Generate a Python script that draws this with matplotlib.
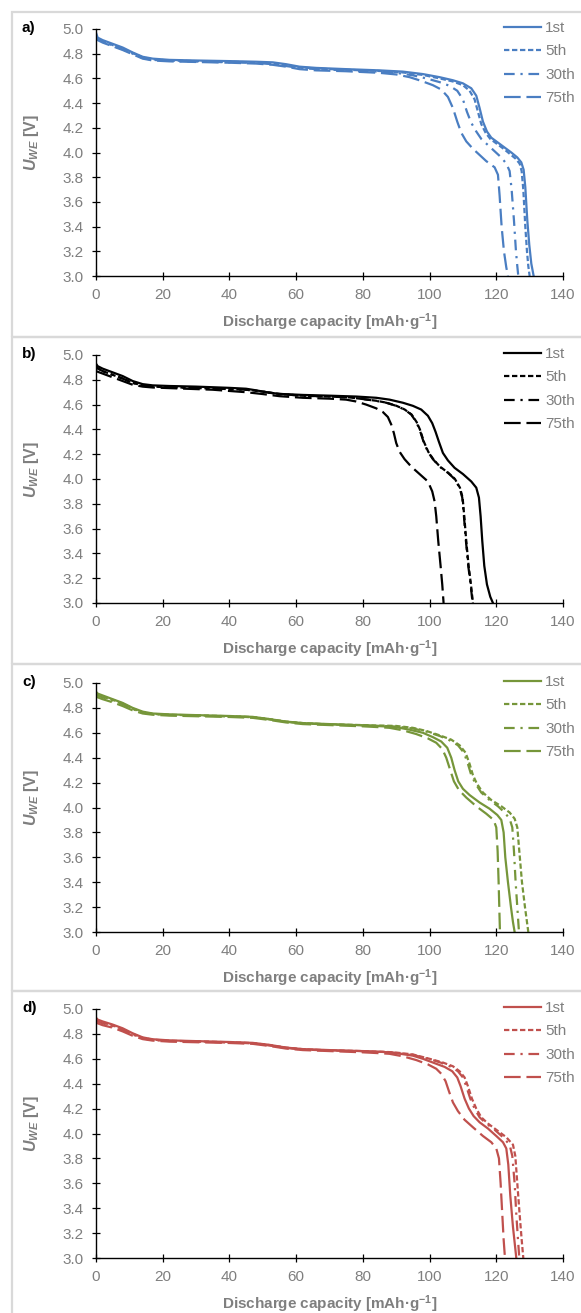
import numpy as np
import matplotlib
matplotlib.use("Agg")
import matplotlib.pyplot as plt
from matplotlib.patches import Rectangle

plt.rcParams["font.family"] = ["Liberation Sans", "DejaVu Sans"]
plt.rcParams["mathtext.fontset"] = "custom"
plt.rcParams["mathtext.it"] = "Liberation Sans:italic:bold"
plt.rcParams["mathtext.rm"] = "Liberation Sans:bold"
plt.rcParams["mathtext.bf"] = "Liberation Sans:bold"

# ---- data: discharge curves (capacity mAh/g, U_WE V) ----
CYCLES = ["1st", "5th", "30th", "75th"]
PANELS = ["a)", "b)", "c)", "d)"]
COLOURS = ["#4a7ec2", "#000000", "#76963a", "#c0504d"]

A_1ST = [(0, 4.97), (0.5, 4.93), (2, 4.91), (5, 4.88), (8, 4.85), (11, 4.81), (14, 4.775),
         (17, 4.76), (22, 4.75), (30, 4.745), (40, 4.74), (48, 4.735), (53, 4.73), (57, 4.715),
         (61, 4.695), (66, 4.685), (75, 4.675), (85, 4.665), (92, 4.655), (98, 4.635),
         (103, 4.61), (107, 4.585), (110, 4.56), (112.5, 4.52), (114, 4.46), (115, 4.36),
         (116, 4.25), (117.2, 4.17), (118.5, 4.12), (120.5, 4.08), (122.5, 4.04), (124.5, 4.0),
         (126.3, 3.96), (127.5, 3.92), (128.2, 3.86), (128.7, 3.72), (129.3, 3.45),
         (129.9, 3.25), (130.5, 3.1), (131.2, 3.0)]
A_5TH = [(0, 4.95), (0.5, 4.92), (2, 4.9), (5, 4.87), (8, 4.84), (11, 4.805), (14, 4.77),
         (17, 4.755), (22, 4.745), (30, 4.74), (40, 4.735), (48, 4.73), (53, 4.72), (57, 4.705),
         (61, 4.69), (66, 4.68), (75, 4.67), (85, 4.66), (92, 4.648), (98, 4.628), (103, 4.6),
         (107, 4.575), (110, 4.545), (112, 4.5), (113.5, 4.43), (114.5, 4.33), (115.5, 4.23),
         (116.8, 4.16), (118.2, 4.11), (120.2, 4.07), (122.2, 4.03), (124, 3.99), (125.8, 3.95),
         (127, 3.91), (127.6, 3.85), (128.1, 3.7), (128.7, 3.4), (129.2, 3.2), (129.6, 3.08),
         (130, 3.0)]
A_30TH = [(0, 4.95), (0.5, 4.92), (2, 4.9), (5, 4.865), (8, 4.835), (11, 4.8), (14, 4.765),
          (17, 4.75), (22, 4.742), (30, 4.737), (40, 4.73), (48, 4.725), (53, 4.715), (57, 4.7),
          (61, 4.685), (66, 4.675), (75, 4.665), (85, 4.655), (90, 4.645), (95, 4.625),
          (99, 4.6), (103, 4.57), (106, 4.54), (108.3, 4.5), (110, 4.43), (111.2, 4.33),
          (112.5, 4.24), (114, 4.17), (115.5, 4.11), (117.5, 4.06), (119.5, 4.01), (121.5, 3.96),
          (123, 3.91), (124, 3.85), (124.6, 3.7), (125.3, 3.45), (125.9, 3.2), (126.3, 3.08),
          (126.6, 3.0)]
A_75TH = [(0, 4.94), (0.5, 4.91), (2, 4.89), (5, 4.86), (8, 4.83), (11, 4.795), (14, 4.76),
          (17, 4.745), (22, 4.738), (30, 4.733), (40, 4.727), (48, 4.72), (53, 4.71),
          (57, 4.695), (61, 4.675), (66, 4.665), (75, 4.658), (85, 4.645), (90, 4.632),
          (94, 4.61), (97.5, 4.58), (101, 4.545), (103.5, 4.51), (105.5, 4.45), (107, 4.36),
          (108.3, 4.25), (109.5, 4.16), (111, 4.09), (113, 4.03), (115, 3.98), (117, 3.93),
          (119.5, 3.88), (120.5, 3.82), (121, 3.65), (121.6, 3.4), (122.3, 3.2), (123, 3.07),
          (123.5, 3.0)]

B_1ST = [(0, 4.93), (0.5, 4.91), (2, 4.89), (5, 4.86), (8, 4.83), (11, 4.79), (14, 4.765),
         (17, 4.755), (22, 4.75), (30, 4.745), (40, 4.735), (45, 4.728), (48, 4.715),
         (52, 4.695), (56, 4.685), (62, 4.678), (70, 4.672), (78, 4.665), (84, 4.655),
         (88, 4.64), (92, 4.615), (95, 4.59), (97.5, 4.56), (99.5, 4.51), (100.8, 4.45),
         (101.8, 4.38), (102.8, 4.3), (104, 4.21), (105.5, 4.15), (107.5, 4.09), (110, 4.04),
         (112.5, 3.98), (114, 3.93), (114.8, 3.85), (115.3, 3.7), (115.8, 3.5), (116.4, 3.3),
         (117.2, 3.15), (118.2, 3.05), (119, 3.0)]
B_5TH = [(0, 4.9), (2, 4.87), (5, 4.84), (8, 4.81), (11, 4.775), (14, 4.755), (17, 4.745),
         (25, 4.738), (35, 4.73), (45, 4.72), (50, 4.705), (55, 4.685), (62, 4.672), (70, 4.665),
         (76, 4.658), (80, 4.645), (84, 4.631), (87, 4.616), (90, 4.591), (92.5, 4.561),
         (94.6, 4.52), (96.1, 4.46), (97.1, 4.4), (98.3, 4.3), (99.6, 4.22), (101.1, 4.16),
         (103.1, 4.1), (105.6, 4.05), (107.6, 4.0), (109.1, 3.93), (109.9, 3.85), (110.4, 3.7),
         (111, 3.5), (111.7, 3.3), (112.4, 3.15), (113, 3.0)]
B_30TH = [(0, 4.9), (2, 4.87), (5, 4.84), (8, 4.81), (11, 4.775), (14, 4.755), (17, 4.745),
          (25, 4.738), (35, 4.73), (45, 4.72), (50, 4.705), (55, 4.685), (62, 4.672),
          (70, 4.665), (76, 4.658), (80, 4.645), (84, 4.63), (87, 4.615), (90, 4.59),
          (92.5, 4.56), (94.5, 4.52), (96, 4.46), (97, 4.4), (98.2, 4.3), (99.5, 4.22),
          (101, 4.16), (103, 4.1), (105.5, 4.05), (107.5, 4.0), (109, 3.93), (109.8, 3.85),
          (110.3, 3.7), (110.9, 3.5), (111.6, 3.3), (112.3, 3.15), (112.9, 3.0)]
B_75TH = [(0, 4.87), (2, 4.85), (5, 4.82), (8, 4.79), (11, 4.76), (14, 4.745), (17, 4.738),
          (25, 4.73), (35, 4.72), (45, 4.7), (50, 4.685), (55, 4.668), (62, 4.655), (70, 4.648),
          (75, 4.64), (78, 4.625), (81, 4.6), (84, 4.57), (86, 4.54), (87.5, 4.5), (88.5, 4.44),
          (89.3, 4.37), (90, 4.29), (91, 4.22), (92.5, 4.16), (94.5, 4.1), (97, 4.04),
          (99.5, 3.98), (100.8, 3.9), (101.5, 3.82), (102, 3.7), (102.6, 3.5), (103.3, 3.3),
          (103.8, 3.15), (104.2, 3.0)]

C_1ST = [(0, 4.93), (0.5, 4.915), (2, 4.9), (5, 4.87), (8, 4.84), (11, 4.8), (14, 4.77),
         (17, 4.755), (22, 4.748), (30, 4.742), (40, 4.735), (47, 4.728), (52, 4.71),
         (57, 4.69), (62, 4.678), (70, 4.67), (80, 4.66), (86, 4.652), (90, 4.645), (94, 4.625),
         (98, 4.6), (101, 4.565), (103.5, 4.53), (105.3, 4.48), (106.5, 4.4), (107.5, 4.3),
         (108.6, 4.21), (110, 4.15), (112, 4.1), (115, 4.04), (118, 3.99), (120.3, 3.94),
         (121.5, 3.9), (122.2, 3.8), (122.7, 3.6), (123.5, 3.4), (124.4, 3.2), (125, 3.08),
         (125.5, 3.0)]
C_5TH = [(0, 4.92), (0.5, 4.905), (2, 4.89), (5, 4.865), (8, 4.835), (11, 4.795), (14, 4.765),
         (17, 4.752), (22, 4.745), (30, 4.74), (40, 4.733), (47, 4.726), (52, 4.71), (57, 4.69),
         (62, 4.678), (70, 4.668), (80, 4.662), (86, 4.658), (90, 4.655), (95, 4.64),
         (99, 4.615), (103, 4.58), (106.5, 4.545), (109, 4.5), (110.8, 4.44), (112, 4.35),
         (113, 4.26), (114.2, 4.19), (116, 4.12), (118.5, 4.06), (121.5, 4.01), (124, 3.96),
         (125.5, 3.91), (126.3, 3.84), (126.9, 3.65), (127.7, 3.4), (128.6, 3.2), (129.2, 3.08),
         (129.6, 3.0)]
C_30TH = [(0, 4.91), (0.5, 4.9), (2, 4.885), (5, 4.86), (8, 4.83), (11, 4.79), (14, 4.762),
          (17, 4.75), (22, 4.743), (30, 4.738), (40, 4.732), (47, 4.725), (52, 4.708),
          (57, 4.688), (62, 4.676), (70, 4.666), (80, 4.66), (86, 4.655), (90, 4.65),
          (95, 4.635), (99, 4.61), (103, 4.575), (106, 4.54), (108.5, 4.5), (110.3, 4.44),
          (111.5, 4.35), (112.5, 4.26), (113.8, 4.19), (115.5, 4.12), (118, 4.06), (120.5, 4.01),
          (122.5, 3.96), (124, 3.91), (124.8, 3.84), (125.3, 3.65), (125.8, 3.4), (126.3, 3.2),
          (126.6, 3.08), (126.8, 3.0)]
C_75TH = [(0, 4.89), (0.5, 4.885), (2, 4.87), (5, 4.845), (8, 4.815), (11, 4.78), (14, 4.755),
          (17, 4.745), (22, 4.738), (30, 4.733), (40, 4.727), (47, 4.72), (52, 4.703),
          (57, 4.683), (62, 4.67), (70, 4.662), (80, 4.652), (85, 4.645), (88, 4.64),
          (92, 4.62), (96, 4.59), (99.5, 4.555), (102, 4.52), (103.8, 4.47), (105, 4.4),
          (106.2, 4.3), (107.3, 4.21), (108.8, 4.14), (111, 4.08), (114, 4.01), (117, 3.95),
          (119.2, 3.9), (120, 3.84), (120.4, 3.65), (120.7, 3.4), (120.9, 3.2), (121.1, 3.0)]

D_1ST = [(0, 4.93), (0.5, 4.915), (2, 4.9), (5, 4.875), (8, 4.845), (11, 4.805), (14, 4.772),
         (17, 4.757), (22, 4.748), (30, 4.742), (40, 4.735), (47, 4.728), (52, 4.712),
         (57, 4.69), (62, 4.678), (70, 4.67), (80, 4.662), (86, 4.655), (90, 4.645),
         (95, 4.625), (98, 4.6), (101.5, 4.565), (104.5, 4.535), (106.8, 4.5), (108.3, 4.45),
         (109.3, 4.38), (110.5, 4.28), (111.8, 4.2), (113.2, 4.14), (115, 4.09), (117.5, 4.04),
         (120, 3.98), (122, 3.93), (123, 3.88), (123.6, 3.75), (124.2, 3.5), (125, 3.25),
         (125.6, 3.1), (126, 3.0)]
D_5TH = [(0, 4.92), (0.5, 4.905), (2, 4.89), (5, 4.868), (8, 4.838), (11, 4.8), (14, 4.768),
         (17, 4.754), (22, 4.745), (30, 4.74), (40, 4.733), (47, 4.726), (52, 4.71), (57, 4.69),
         (62, 4.677), (70, 4.668), (80, 4.662), (86, 4.657), (90, 4.65), (95, 4.635),
         (100, 4.6), (104, 4.57), (107, 4.54), (109, 4.5), (110.5, 4.45), (111.5, 4.38),
         (112.7, 4.28), (114, 4.2), (115.5, 4.13), (117.5, 4.08), (120, 4.03), (123, 3.97),
         (125, 3.91), (125.7, 3.82), (126.3, 3.6), (127, 3.35), (127.6, 3.15), (128.1, 3.0)]
D_30TH = [(0, 4.91), (0.5, 4.9), (2, 4.885), (5, 4.862), (8, 4.832), (11, 4.795),
          (14, 4.764), (17, 4.75), (22, 4.743), (30, 4.738), (40, 4.731), (47, 4.724),
          (52, 4.707), (57, 4.687), (62, 4.675), (70, 4.666), (80, 4.66), (86, 4.655),
          (90, 4.648), (95, 4.632), (100, 4.598), (103.5, 4.568), (106.5, 4.535), (108.5, 4.5),
          (110, 4.45), (111, 4.38), (112.2, 4.28), (113.5, 4.2), (115, 4.13), (117, 4.08),
          (119.5, 4.03), (122, 3.97), (124, 3.91), (124.8, 3.82), (125.5, 3.6), (126, 3.35),
          (126.5, 3.15), (126.9, 3.0)]
D_75TH = [(0, 4.89), (0.5, 4.885), (2, 4.87), (5, 4.85), (8, 4.82), (11, 4.785), (14, 4.758),
          (17, 4.746), (22, 4.738), (30, 4.733), (40, 4.727), (47, 4.72), (52, 4.703),
          (57, 4.682), (62, 4.67), (70, 4.662), (80, 4.652), (85, 4.645), (88, 4.64),
          (92, 4.62), (96, 4.59), (99.5, 4.555), (102, 4.52), (103.5, 4.48), (104.8, 4.42),
          (105.8, 4.34), (107, 4.25), (108.5, 4.18), (110.5, 4.11), (113, 4.05), (116, 3.98),
          (118.5, 3.93), (120, 3.88), (120.8, 3.8), (121.3, 3.6), (121.8, 3.35), (122.2, 3.15),
          (122.6, 3.0)]

CURVES = [[A_1ST, A_5TH, A_30TH, A_75TH],
          [B_1ST, B_5TH, B_30TH, B_75TH],
          [C_1ST, C_5TH, C_30TH, C_75TH],
          [D_1ST, D_5TH, D_30TH, D_75TH]]

X_TICKS = [0, 20, 40, 60, 80, 100, 120, 140]
Y_TICKS = [3.0, 3.2, 3.4, 3.6, 3.8, 4.0, 4.2, 4.4, 4.6, 4.8, 5.0]

# line styles per cycle (Excel-like dash patterns)
STYLES = ["-", (0, (2.4, 1.2)), (0, (4.8, 2.6, 1.0, 2.6)), (0, (7.5, 2.6))]

W, H = 581, 1313
GREY = "#7f7f7f"
FS = 11

fig = plt.figure(figsize=(W / 100, H / 100), dpi=100)

# panel geometry in pixels: (frame_top, frame_bottom, axes_top, axes_bottom)
geom = [(12, 337, 29, 276), (337, 664, 355, 603), (664, 991, 683, 932), (991, 1322, 1009, 1258)]
ax_left, ax_right = 96, 563

for i, (ft, fb, at, ab) in enumerate(geom):
    fig.patches.append(Rectangle((12 / W, 1 - fb / H), 1.2, (fb - ft) / H,
                                 transform=fig.transFigure, facecolor="none",
                                 edgecolor="#d9d9d9", linewidth=1.6, zorder=0))
    ax = fig.add_axes([ax_left / W, 1 - ab / H, (ax_right - ax_left) / W, (ab - at) / H])
    ax.patch.set_alpha(0)
    for curve, lab, ls in zip(CURVES[i], CYCLES, STYLES):
        pts = np.array(curve)
        ax.plot(pts[:, 0], pts[:, 1], color=COLOURS[i], lw=1.6, ls=ls, label=lab)

    ax.set_xlim(0, 140)
    ax.set_ylim(3.0, 5.0)
    ax.set_xticks(X_TICKS)
    ax.set_yticks(Y_TICKS)
    ax.set_yticklabels([f"{v:.1f}" for v in Y_TICKS])
    ax.tick_params(direction="inout", length=5.5, width=0.9, color="black",
                   labelsize=FS, labelcolor=GREY, pad=6)
    for s in ["top", "right"]:
        ax.spines[s].set_visible(False)
    for s in ["left", "bottom"]:
        ax.spines[s].set_linewidth(1.0)
        ax.spines[s].set_color("black")

    h_px = ab - at
    ax.set_xlabel("Discharge capacity [mAh·g$^{-1}$]", fontsize=FS, fontweight="bold",
                  color=GREY)
    ax.xaxis.set_label_coords(0.5, -35 / h_px)
    ax.set_ylabel("$U_{WE}$ [V]", fontsize=FS + 0.5, fontweight="bold", color=GREY)
    ax.yaxis.set_label_coords((41 - ax_left) / (ax_right - ax_left), 0.54)

    leg = ax.legend(loc="upper left", bbox_to_anchor=(504 / W, 1 - (at - 8) / H),
                    bbox_transform=fig.transFigure, frameon=False, fontsize=FS,
                    handlelength=2.4, handletextpad=0.3, labelspacing=0.62,
                    borderpad=0, borderaxespad=0)
    for t in leg.get_texts():
        t.set_color(GREY)

    fig.text(22 / W, 1 - (at - 1) / H, PANELS[i], fontsize=FS, fontweight="bold",
             ha="left", va="center")

fig.savefig("out.png", dpi=100)
